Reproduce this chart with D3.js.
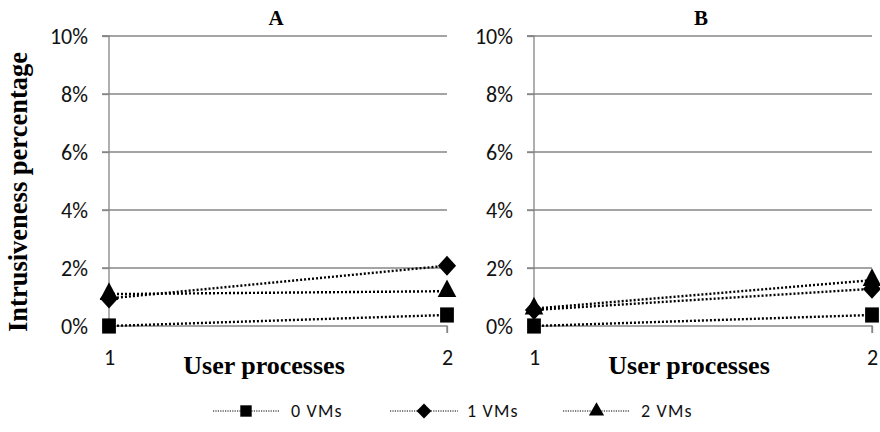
<!DOCTYPE html>
<html>
<head>
<meta charset="utf-8">
<script src="https://cdn.jsdelivr.net/npm/d3@7"></script>
<style>
  html, body { margin: 0; padding: 0; background: #fff; }
  svg { display: block; }
</style>
</head>
<body>
<svg id="chart" width="880" height="432"></svg>
<script>
// Intrusiveness (%) against number of user processes, two scenarios
const categories = [1, 2];
const seriesNames = ["0 VMs", "1 VMs", "2 VMs"];
const panelTitles = ["A", "B"];
const panelA = [
  [0.0, 0.38],   // 0 VMs
  [0.95, 2.08],  // 1 VMs
  [1.1, 1.2]     // 2 VMs
];
const panelB = [
  [0.0, 0.38],   // 0 VMs
  [0.55, 1.28],  // 1 VMs
  [0.6, 1.58]    // 2 VMs
];
const yTicks = [0, 2, 4, 6, 8, 10];
const markerTypes = [d3.symbolSquare, d3.symbolDiamond2, d3.symbolTriangle];

const svg = d3.select("#chart");
const gridColor = "#868686";
const tickFont = "Carlito, Calibri, 'Open Sans', sans-serif";
const serif = "'Liberation Serif', 'Times New Roman', serif";

const panels = [
  { title: panelTitles[0], data: panelA, x0: 109, x1: 447 },
  { title: panelTitles[1], data: panelB, x0: 534, x1: 872 }
];
const yTop = 36, yBot = 326;

const y = d3.scaleLinear().domain([0, 10]).range([yBot, yTop]);

function markerPath(type, size) {
  return d3.symbol().type(type).size(size)();
}
const markerSizes = [190, 210, 150];

panels.forEach(p => {
  const x = d3.scalePoint().domain(categories).range([p.x0, p.x1]);
  const g = svg.append("g");

  // horizontal gridlines (baseline is drawn by the x axis)
  g.selectAll("line.grid").data(yTicks.filter(t => t > 0)).join("line")
    .attr("x1", p.x0 - 7).attr("x2", p.x1)
    .attr("y1", d => y(d)).attr("y2", d => y(d))
    .attr("stroke", gridColor).attr("stroke-width", 1.3);

  // y axis with left ticks
  const yAxis = d3.axisLeft(y).tickValues(yTicks).tickSize(7).tickPadding(14)
    .tickFormat(d => d + "%");
  const ya = g.append("g").attr("transform", `translate(${p.x0},0)`).call(yAxis);
  ya.select(".domain").attr("stroke", gridColor).attr("stroke-width", 1.3)
    .attr("d", `M-7,${yTop}H0V${yBot}`);
  ya.selectAll(".tick line").attr("stroke", gridColor).attr("stroke-width", 1.3);
  ya.selectAll(".tick text").attr("font-family", tickFont).attr("font-size", 22)
    .attr("fill", "#111").attr("dy", "0.35em");

  // x axis with downward ticks
  const xAxis = d3.axisBottom(x).tickSize(7).tickPadding(16);
  const xa = g.append("g").attr("transform", `translate(0,${yBot})`).call(xAxis);
  xa.select(".domain").attr("stroke", gridColor).attr("stroke-width", 1.3)
    .attr("d", `M${p.x0},7V0H${p.x1}V7`);
  xa.selectAll(".tick line").attr("stroke", gridColor).attr("stroke-width", 1.3);
  xa.selectAll(".tick text").attr("font-family", tickFont).attr("font-size", 22)
    .attr("fill", "#111");

  // panel title
  g.append("text").attr("x", (p.x0 + p.x1) / 2 - 2).attr("y", 25)
    .attr("text-anchor", "middle").attr("font-family", serif)
    .attr("font-weight", "bold").attr("font-size", 21).text(p.title);

  // x axis title
  g.append("text").attr("x", (p.x0 + p.x1) / 2 - 14).attr("y", 374)
    .attr("text-anchor", "middle").attr("font-family", serif)
    .attr("font-weight", "bold").attr("font-size", 26).text("User processes");

  // series lines
  const line = d3.line().x((d, i) => x(categories[i])).y(d => y(d));
  p.data.forEach(vals => {
    g.append("path").attr("d", line(vals)).attr("fill", "none")
      .attr("stroke", "#000").attr("stroke-width", 2.4)
      .attr("stroke-dasharray", "2 2");
  });
  // markers
  p.data.forEach((vals, si) => {
    g.selectAll(null).data(vals).join("path")
      .attr("transform", (d, i) => `translate(${x(categories[i])},${y(d)}) scale(1,1.1)`)
      .attr("d", markerPath(markerTypes[si], markerSizes[si]))
      .attr("fill", "#000");
  });
});

// y axis title
svg.append("text")
  .attr("transform", `translate(27,192) rotate(-90)`)
  .attr("text-anchor", "middle").attr("font-family", serif)
  .attr("font-weight", "bold").attr("font-size", 26.5)
  .text("Intrusiveness percentage");

// legend
const legendItems = [
  { x0: 213, x1: 279, tx: 291 },
  { x0: 390, x1: 458, tx: 467 },
  { x0: 563, x1: 630, tx: 641 }
];
const legendY = 411;
const lg = svg.append("g");
legendItems.forEach((it, i) => {
  lg.append("line").attr("x1", it.x0).attr("x2", it.x1)
    .attr("y1", legendY).attr("y2", legendY)
    .attr("stroke", "#000").attr("stroke-width", 1.2).attr("stroke-dasharray", "1.2 1.2");
  lg.append("path").attr("transform", `translate(${(it.x0 + it.x1) / 2},${legendY})`)
    .attr("d", markerPath(markerTypes[i], [130, 140, 100][i])).attr("fill", "#000");
  lg.append("text").attr("x", it.tx).attr("y", legendY).attr("dy", "0.35em")
    .attr("font-family", tickFont).attr("font-size", 18).attr("letter-spacing", 1.2)
    .attr("fill", "#111").text(seriesNames[i]);
});
</script>
</body>
</html>
